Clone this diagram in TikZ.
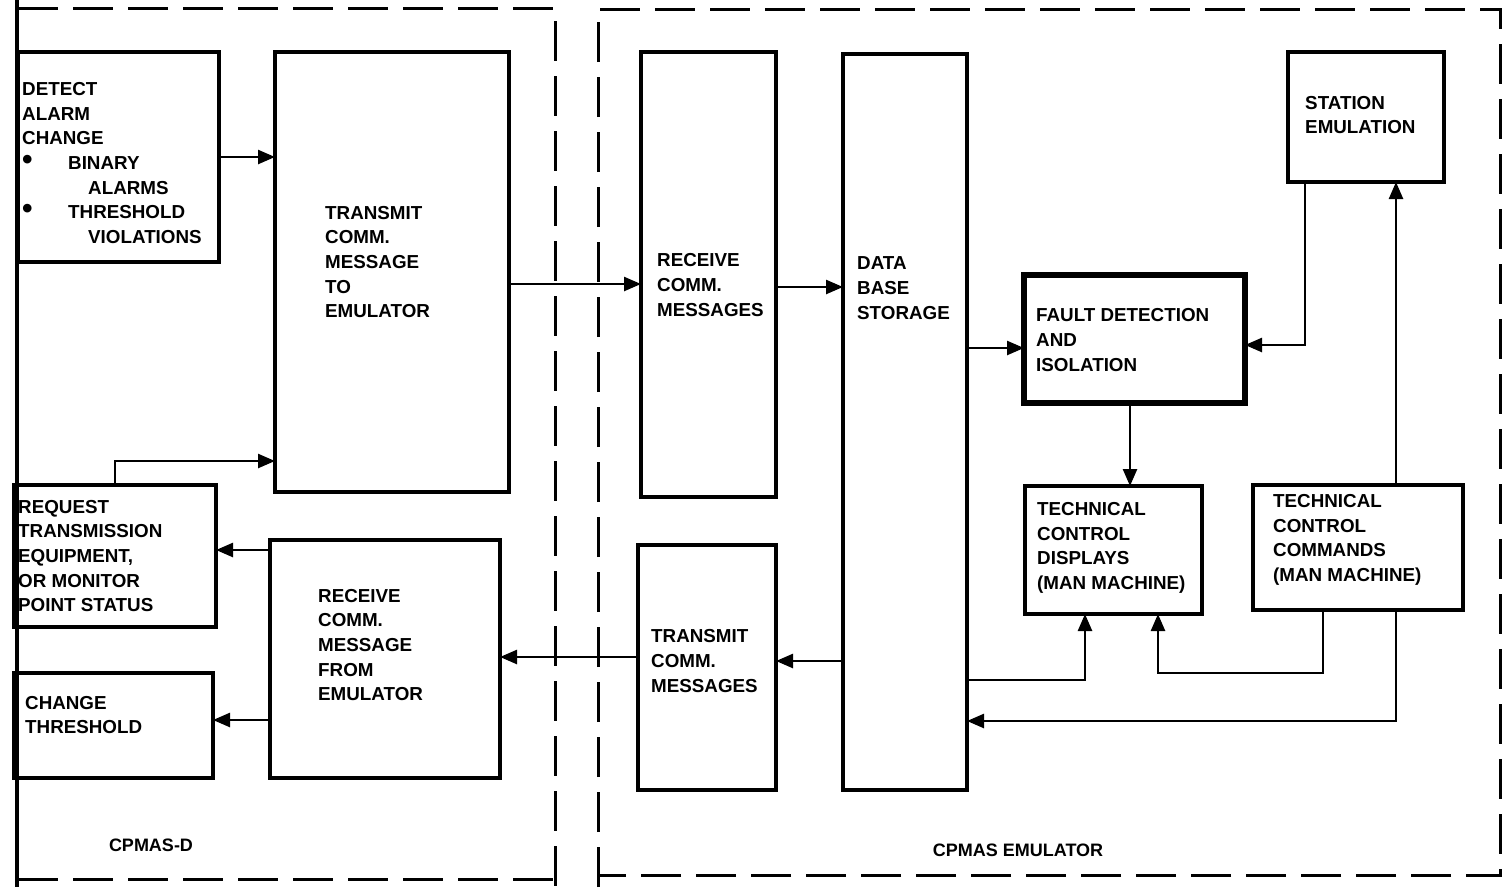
\documentclass[tikz,border=0pt]{standalone}
\usepackage{fontspec}
\setmainfont{Liberation Sans}
\usetikzlibrary{arrows.meta}
\begin{document}
\begin{tikzpicture}[x=1pt,y=-1pt,
  box/.style={draw, line width=3.2pt, inner sep=0pt, outer sep=0pt, anchor=north west},
  txt/.style={anchor=west, align=left, inner sep=0pt, font=\fontsize{18.8}{24.7}\selectfont\bfseries},
  lbl/.style={inner sep=0pt, font=\fontsize{18}{22}\selectfont\bfseries},
  arr/.style={line width=2.5pt, -{Triangle[length=17pt,width=14pt]}},
  region/.style={line width=3pt, dash pattern=on 40pt off 15pt}]
\useasboundingbox (0,0) rectangle (1508,887);
% regions
\draw[line width=4pt] (17,0) -- (17,887);
\draw[region] (18,8) -- (555,8) -- (555,887);
\draw[region] (18,879) -- (555,879);
\draw[region] (598,887) -- (598,9) -- (1500,9) -- (1500,875) -- (598,875);
% boxes
\node[box, minimum width=201pt, minimum height=210pt] (det) at (18,52) {};
\node[box, minimum width=234pt, minimum height=440pt] (tx) at (275,52) {};
\node[box, minimum width=202pt, minimum height=142pt] (req) at (14,485) {};
\node[box, minimum width=199pt, minimum height=105pt] (chg) at (14,673) {};
\node[box, minimum width=230pt, minimum height=238pt] (rfe) at (270,540) {};
\node[box, minimum width=135pt, minimum height=445pt] (rcv) at (641,52) {};
\node[box, minimum width=138pt, minimum height=245pt] (txm) at (638,545) {};
\node[box, minimum width=124pt, minimum height=736pt] (db) at (843,54) {};
\node[box, minimum width=156pt, minimum height=130pt] (stn) at (1288,52) {};
\node[box, line width=5.5pt, minimum width=221pt, minimum height=128pt] (fault) at (1024,275) {};
\node[box, minimum width=177pt, minimum height=128pt] (disp) at (1025,486) {};
\node[box, minimum width=210pt, minimum height=125pt] (cmd) at (1253,485) {};
% texts
\node[txt] (detT) at (22,163) {DETECT\\ALARM\\CHANGE\\\makebox[46pt][l]{\fontsize{30}{24}\selectfont\textbullet}BINARY\\\hspace*{66pt}ALARMS\\\makebox[46pt][l]{\fontsize{30}{24}\selectfont\textbullet}THRESHOLD\\\hspace*{66pt}VIOLATIONS};
\node[txt] (txT) at (325,262) {TRANSMIT\\COMM.\\MESSAGE\\TO\\EMULATOR};
\node[txt] (reqT) at (18,556) {REQUEST\\TRANSMISSION\\EQUIPMENT,\\OR MONITOR\\POINT STATUS};
\node[txt] (chgT) at (25,715) {CHANGE\\THRESHOLD};
\node[txt] (rfeT) at (318,645) {RECEIVE\\COMM.\\MESSAGE\\FROM\\EMULATOR};
\node[txt] (rcvT) at (657,285) {RECEIVE\\COMM.\\MESSAGES};
\node[txt] (txmT) at (651,661) {TRANSMIT\\COMM.\\MESSAGES};
\node[txt] (dbT) at (857,288) {DATA\\BASE\\STORAGE};
\node[txt] (stnT) at (1305,115) {STATION\\EMULATION};
\node[txt] (faultT) at (1036,340) {FAULT DETECTION\\AND\\ISOLATION};
\node[txt] (dispT) at (1037,548) {TECHNICAL\\CONTROL\\DISPLAYS\\(MAN MACHINE)};
\node[txt] (cmdT) at (1273,540) {TECHNICAL\\CONTROL\\COMMANDS\\(MAN MACHINE)};
\node[lbl] (lblD) at (151,845) {CPMAS-D};
\node[lbl] (lblE) at (1018,850) {CPMAS EMULATOR};
% connectors
\draw[arr] (det.east) -- (tx.west |- det.east);
\draw[arr] (req.north) -- (req.north |- 0,461) -- (tx.west |- 0,461);
\draw[arr] (tx.east |- 0,284) -- (rcv.west |- 0,284);
\draw[arr] (rcv.east |- 0,287) -- (db.west |- 0,287);
\draw[arr] (rfe.west |- 0,550) -- (req.east |- 0,550);
\draw[arr] (rfe.west |- 0,720) -- (chg.east |- 0,720);
\draw[arr] (txm.west |- 0,657) -- (rfe.east |- 0,657);
\draw[arr] (db.west |- 0,661) -- (txm.east |- 0,661);
\draw[arr] (db.east |- 0,348) -- (fault.west |- 0,348);
\draw[arr] (fault.south -| 1130,0) -- (disp.north -| 1130,0);
\draw[arr] (stn.south -| 1305,0) |- (fault.east |- 0,345);
\draw[arr] (cmd.north -| 1396,0) -- (stn.south -| 1396,0);
\draw[arr] (db.east |- 0,680) -| (disp.south -| 1085,0);
\draw[arr] (cmd.south -| 1323,0) -- (1323,673) -| (disp.south -| 1158,0);
\draw[arr] (cmd.south -| 1396,0) -- (1396,721) -- (db.east |- 0,721);
\end{tikzpicture}
\end{document}
